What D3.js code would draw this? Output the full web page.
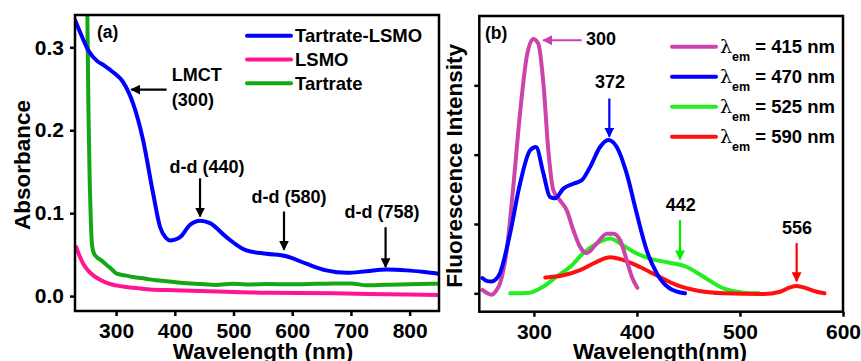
<!DOCTYPE html>
<html>
<head>
<meta charset="utf-8">
<script src="https://cdn.jsdelivr.net/npm/d3@7"></script>
<style>
  body { margin: 0; background: #fff; }
  svg { display: block; font-family: "Liberation Sans", Arial, sans-serif; font-weight: bold; }
</style>
</head>
<body>
<div id="chart"></div>
<script>
// ---- panel (a) data: absorbance vs wavelength ----
var absTicks = [0, 0.1, 0.2, 0.3];
var absXTicks = [300, 400, 500, 600, 700, 800];

var tartrateLsmo = [
  [230, 0.333], [240, 0.316], [253, 0.296], [267, 0.284], [280, 0.278], [295, 0.270],
  [312, 0.258], [329, 0.232], [346, 0.188], [363, 0.124], [375, 0.083], [385, 0.070],
  [392, 0.067], [400, 0.068], [409, 0.071], [426, 0.086], [443, 0.091], [460, 0.088],
  [488, 0.071], [522, 0.055], [556, 0.051], [590, 0.048], [624, 0.039], [658, 0.031],
  [693, 0.028], [727, 0.030], [761, 0.032], [795, 0.031], [825, 0.029], [849, 0.027]
];
var lsmo = [
  [232, 0.059], [238, 0.048], [244, 0.039], [252, 0.031], [261, 0.025], [272, 0.020],
  [284, 0.016], [307, 0.012], [330, 0.010], [358, 0.008], [400, 0.007], [443, 0.006],
  [500, 0.005], [556, 0.004], [610, 0.0038], [670, 0.0033], [760, 0.0022], [849, 0.0012]
];
var tartrate = [
  [249, 0.50], [251, 0.34], [253, 0.22], [255, 0.14], [257, 0.09], [259, 0.062],
  [262, 0.052], [267, 0.047], [275, 0.043], [283, 0.038], [290, 0.034], [301, 0.027],
  [315, 0.025], [329, 0.023], [350, 0.021], [368, 0.019], [386, 0.018], [410, 0.016],
  [443, 0.0145], [470, 0.0135], [500, 0.0148], [530, 0.014], [556, 0.0145], [600, 0.0142],
  [640, 0.0148], [670, 0.0153], [700, 0.0152], [727, 0.013], [760, 0.0138], [800, 0.0142],
  [849, 0.015]
];

// ---- panel (b) data: fluorescence excitation spectra ----
var flXTicks = [300, 400, 500, 600];
var flTicks = [0, 100, 200, 300];

var em415 = [
  [250, 5], [255, 0], [259, -2], [263, 3], [267, 14], [273.6, 62], [280, 154], [286.5, 259],
  [293, 341], [299.4, 367], [304.3, 360], [309.2, 303], [314, 206], [318.8, 149],
  [325.3, 134], [331.8, 120], [338.3, 91], [344.8, 67], [351.3, 58], [361, 72],
  [370.7, 86], [377, 86], [383.6, 77], [390, 48], [395, 24], [400.4, 8]
];
var em470 = [
  [250, 22], [254, 18], [259, 17], [263, 20], [267, 29], [276.8, 86], [286.5, 158],
  [296.2, 206], [302, 211], [309.2, 173], [315.6, 139], [320.5, 137], [328.6, 151],
  [338.3, 158], [346.4, 163], [354.5, 182], [364.2, 211], [372.2, 221], [380.4, 211],
  [390, 173], [399.8, 115], [409.5, 62], [419.2, 29], [432, 7], [446.7, 0]
];
var em525 = [
  [277, 0], [296, 1], [309, 9.6], [322, 24], [335, 38], [348, 58], [361, 72], [374, 79],
  [383.6, 72], [396.5, 60], [412.7, 50], [432, 44], [448.4, 38], [464.5, 24], [484, 7],
  [503.3, 1], [518, 0]
];
var em590 = [
  [311, 23], [328.6, 26], [344.8, 33.6], [361, 45.5], [374, 52], [387, 48], [403, 38],
  [419, 26], [438.6, 12], [458, 4], [484, 0], [522.7, -1], [539, 2.3], [548.6, 8.6],
  [555, 10.5], [565, 7], [574.6, 2.3], [582, 0]
];

var W = 861, H = 361;
var svg = d3.select("#chart").append("svg").attr("width", W).attr("height", H);

var defs = svg.append("defs");
function marker(id, color) {
  defs.append("marker")
    .attr("id", id)
    .attr("viewBox", "0 0 10 10")
    .attr("refX", 9).attr("refY", 5)
    .attr("markerWidth", 4.5).attr("markerHeight", 4.5)
    .attr("markerUnits", "strokeWidth")
    .attr("orient", "auto")
    .append("path").attr("d", "M0,0 L10,5 L0,10 z").attr("fill", color);
}
marker("ah-black", "#000");
marker("ah-mag", "#cc3fae");
marker("ah-blue", "#0000ff");
marker("ah-green", "#00ee00");
marker("ah-red", "#ff0000");

function panel(opt) {
  var g = svg.append("g");
  var x = d3.scaleLinear().domain(opt.xDomain).range([opt.left, opt.right]);
  var y = d3.scaleLinear().domain(opt.yDomain).range([opt.bottom, opt.top]);

  defs.append("clipPath").attr("id", opt.id)
    .append("rect")
    .attr("x", opt.left).attr("y", opt.top)
    .attr("width", opt.right - opt.left).attr("height", opt.bottom - opt.top);

  // axes
  var xa = g.append("g")
    .attr("transform", "translate(0," + opt.bottom + ")")
    .call(d3.axisBottom(x).tickValues(opt.xTicks).tickSize(5).tickPadding(7).tickFormat(d3.format("d")));
  var ya = g.append("g")
    .attr("transform", "translate(" + opt.left + ",0)")
    .call(d3.axisLeft(y).tickValues(opt.yTicks).tickSize(5).tickPadding(6).tickFormat(opt.yFormat));
  [xa, ya].forEach(function (a) {
    a.select(".domain").remove();
    a.selectAll("line").attr("stroke", "#000").attr("stroke-width", 2.5);
    a.selectAll("text").attr("fill", "#000").style("font-size", "21px")
      .style("font-family", "'Liberation Sans', Arial, sans-serif").style("font-weight", "bold");
  });

  var line = d3.line()
    .x(function (d) { return x(d[0]); })
    .y(function (d) { return y(d[1]); })
    .curve(d3.curveMonotoneX);

  var plot = g.append("g").attr("clip-path", "url(#" + opt.id + ")");
  opt.series.forEach(function (s) {
    plot.append("path")
      .datum(s.data)
      .attr("fill", "none")
      .attr("stroke", s.color)
      .attr("stroke-width", 4)
      .attr("stroke-linejoin", "round")
      .attr("stroke-linecap", "round")
      .attr("d", line);
  });

  // frame
  g.append("rect")
    .attr("x", opt.left).attr("y", opt.top)
    .attr("width", opt.right - opt.left).attr("height", opt.bottom - opt.top)
    .attr("fill", "none").attr("stroke", "#000").attr("stroke-width", 2.5);

  // annotations in data coords
  opt.notes.forEach(function (n) {
    if (n.arrow) {
      g.append("line")
        .attr("x1", x(n.arrow[0])).attr("y1", y(n.arrow[1]))
        .attr("x2", x(n.arrow[2])).attr("y2", y(n.arrow[3]))
        .attr("stroke", n.color || "#000").attr("stroke-width", 2.2)
        .attr("marker-end", "url(#" + n.marker + ")");
    }
    (n.text || []).forEach(function (t) {
      g.append("text")
        .attr("x", x(t[1])).attr("y", y(t[2]))
        .attr("text-anchor", t[3] || "middle")
        .style("font-size", "18px")
        .text(t[0]);
    });
  });

  // panel tag
  g.append("text").attr("x", opt.tagX).attr("y", opt.top + 23)
    .style("font-size", "17.5px").text(opt.tag);

  // axis labels
  g.append("text")
    .attr("x", opt.xLabelX).attr("y", 358.5)
    .attr("text-anchor", "middle")
    .style("font-size", "22.5px")
    .text(opt.xLabel);
  g.append("text")
    .attr("transform", "translate(" + opt.yLabelX + "," + ((opt.top + opt.bottom) / 2 + 2) + ") rotate(-90)")
    .attr("text-anchor", "middle")
    .style("font-size", "22.5px")
    .text(opt.yLabel);

  // legend
  opt.legend.forEach(function (l, i) {
    var ly = opt.legendY + i * opt.legendStep;
    g.append("line")
      .attr("x1", opt.legendX).attr("x2", opt.legendX + 44)
      .attr("y1", ly).attr("y2", ly)
      .attr("stroke", l.color).attr("stroke-width", 4).attr("stroke-linecap", "round");
    var t = g.append("text")
      .attr("x", opt.legendX + 48).attr("y", ly + 6.5)
      .style("font-size", "18.5px");
    if (l.sub) {
      t.append("tspan").text("λ").style("font-family", "'DejaVu Serif', serif").style("font-weight", "normal").style("font-size", "19px");
      t.append("tspan").text("em").attr("dy", 8).style("font-size", "12.5px");
      t.append("tspan").text(" = " + l.label).attr("dy", -8);
    } else {
      t.text(l.label);
    }
  });
}

panel({
  id: "clipA", tag: "(a)", tagX: 97,
  left: 75, right: 439, top: 15, bottom: 311,
  xDomain: [230, 850], yDomain: [-0.018, 0.339],
  xTicks: absXTicks, yTicks: absTicks, yFormat: d3.format(".1f"),
  xLabel: "Wavelength (nm)", xLabelX: 263,
  yLabel: "Absorbance", yLabelX: 30,
  series: [
    { data: tartrate, color: "#13a813" },
    { data: lsmo, color: "#ff1493" },
    { data: tartrateLsmo, color: "#0000ff" }
  ],
  legendX: 247, legendY: 35.7, legendStep: 23.8,
  legend: [
    { label: "Tartrate-LSMO", color: "#0000ff" },
    { label: "LSMO", color: "#ff1493" },
    { label: "Tartrate", color: "#13a813" }
  ],
  notes: [
    { arrow: [386, 0.249, 326, 0.249], marker: "ah-black", text: [["LMCT", 395, 0.259, "start"], ["(300)", 395, 0.229, "start"]] },
    { arrow: [443, 0.142, 443, 0.096], marker: "ah-black", text: [["d-d (440)", 455, 0.149]] },
    { arrow: [586, 0.102, 586, 0.056], marker: "ah-black", text: [["d-d (580)", 594.6, 0.112]] },
    { arrow: [759, 0.083, 759, 0.035], marker: "ah-black", text: [["d-d (758)", 753, 0.094]] }
  ]
});

panel({
  id: "clipB", tag: "(b)", tagX: 485,
  left: 479.3, right: 843, top: 16, bottom: 311.7,
  xDomain: [247, 600], yDomain: [-26.5, 400],
  xTicks: flXTicks, yTicks: flTicks, yFormat: function () { return ""; },
  xLabel: "Wavelength(nm)", xLabelX: 660,
  yLabel: "Fluorescence Intensity", yLabelX: 462,
  series: [
    { data: em525, color: "#22ee22" },
    { data: em590, color: "#ff1010" },
    { data: em415, color: "#cc44aa" },
    { data: em470, color: "#0000ff" }
  ],
  legendX: 672, legendY: 46.7, legendStep: 30,
  legend: [
    { label: "415 nm", color: "#cc44aa", sub: true },
    { label: "470 nm", color: "#0000ff", sub: true },
    { label: "525 nm", color: "#22ee22", sub: true },
    { label: "590 nm", color: "#ff1010", sub: true }
  ],
  notes: [
    { arrow: [346.4, 365, 309, 365], marker: "ah-mag", color: "#cc3fae", text: [["300", 350.6, 357.7, "start"]] },
    { arrow: [373.2, 281, 373.2, 226], marker: "ah-blue", color: "#0000ff", text: [["372", 373.9, 296]] },
    { arrow: [441.8, 105.6, 441.8, 49], marker: "ah-green", color: "#00ee00", text: [["442", 442.5, 119]] },
    { arrow: [555, 72.5, 555, 17.5], marker: "ah-red", color: "#ff0000", text: [["556", 555.4, 85.4]] }
  ]
});
</script>
</body>
</html>
